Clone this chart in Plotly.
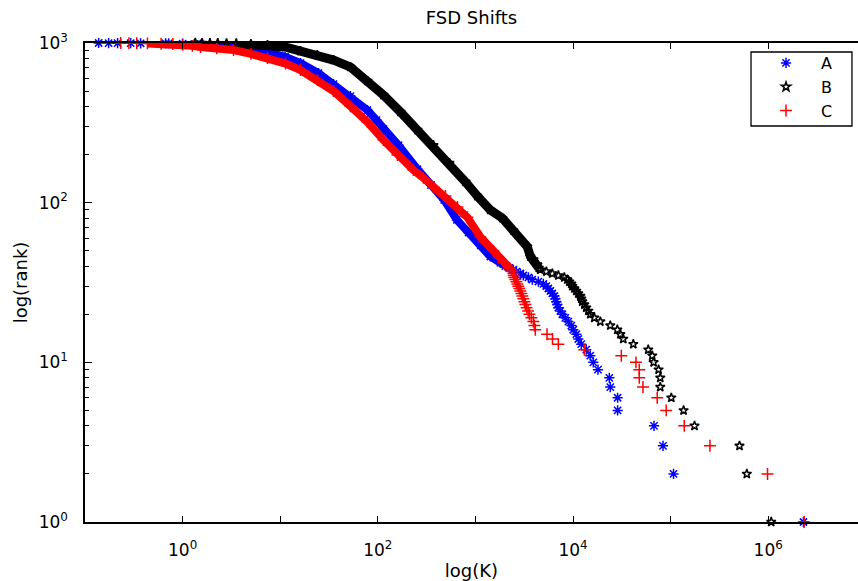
import numpy as np
import plotly.graph_objects as go

# ---------------- data ----------------
# Series A (blue asterisks): rank vs log10(K)
rank_A = [1000, 999, 998, 997, 996, 995, 994, 992, 985, 977, 960, 943, 910, 877,
          820, 748, 648, 553, 465, 380, 329, 289, 229, 162, 129, 104, 78, 65, 54,
          46, 42, 40, 39,
          38, 37, 36, 35, 34, 33, 32, 31, 30, 29, 28, 27, 26, 25, 24, 23, 22, 21,
          20, 19, 18, 17, 16, 15, 14, 13, 12, 11, 10, 9, 8, 7, 6, 5, 4, 3, 2, 1]
log10K_A = [-0.86, -0.758, -0.666, -0.532, -0.43, -0.174, -0.143, 0.0, 0.12, 0.184,
            0.35, 0.522, 0.70, 0.87, 1.05, 1.208, 1.392, 1.546, 1.72, 1.894, 1.986,
            2.058, 2.212, 2.406, 2.545, 2.68, 2.81, 2.93, 3.055, 3.153, 3.256,
            3.307, 3.348,
            3.389, 3.420, 3.461, 3.491, 3.543, 3.583, 3.645, 3.696, 3.727, 3.747,
            3.768, 3.788, 3.809, 3.819, 3.829, 3.839, 3.850, 3.870, 3.891, 3.921,
            3.952, 3.983, 4.003, 4.034, 4.054, 4.085, 4.136, 4.177, 4.208, 4.256,
            4.372, 4.382, 4.457, 4.457, 4.830, 4.922, 5.030, 6.361]

# Series B (black stars)
rank_B = [1000, 999, 998, 997, 996, 993, 985, 970, 945, 890, 840, 782, 707, 578,
          472, 370, 285, 229, 177, 135, 110, 90, 80, 67, 53, 46, 44, 41, 39,
          38, 37, 36, 35, 34, 33, 32, 31, 30, 29, 28, 27, 26, 25, 24, 23, 22, 21,
          20, 19, 18, 17, 16, 15, 14, 13, 12, 11, 10, 9, 8, 7, 6, 5, 4, 3, 2, 1]
log10K_B = [0.13, 0.20, 0.28, 0.36, 0.45, 0.55, 0.70, 0.870, 1.05, 1.208, 1.38,
            1.546, 1.720, 1.894, 2.058, 2.232, 2.406, 2.570, 2.734, 2.898, 3.02,
            3.153, 3.276, 3.389, 3.532, 3.563, 3.594, 3.635, 3.650,
            3.665, 3.727, 3.788, 3.850, 3.911, 3.942, 3.962, 3.983, 3.993, 4.014,
            4.034, 4.054, 4.075, 4.085, 4.095, 4.116, 4.136, 4.157, 4.177, 4.218,
            4.280, 4.382, 4.454, 4.485, 4.515, 4.618, 4.771, 4.812, 4.826, 4.877,
            4.894, 4.894, 5.007, 5.133, 5.245, 5.706, 5.781, 6.031]

# Series C (red plus signs)
rank_C = [1000, 998, 996, 994, 990, 985, 975, 960, 943, 925, 903, 855, 804, 743,
          677, 586, 500, 402, 320, 247, 199, 160, 143, 125, 110, 94, 81, 61, 50,
          42, 39,
          38, 37, 36, 35, 34, 33, 32, 31, 30, 29, 28, 27, 26, 25, 24, 23, 22, 21,
          20, 19, 18, 17, 16, 15, 14, 13, 12, 11, 10, 9, 8, 7, 6, 5, 4, 3, 2, 1]
log10K_C = [-0.635, -0.55, -0.47, -0.36, -0.22, -0.10, 0.0, 0.10, 0.184, 0.35,
            0.522, 0.70, 0.870, 1.055, 1.208, 1.382, 1.546, 1.720, 1.894, 2.058,
            2.201, 2.365, 2.467, 2.570, 2.693, 2.816, 2.918, 3.051, 3.184, 3.287,
            3.350,
            3.370, 3.380, 3.389, 3.394, 3.399, 3.410, 3.420, 3.430, 3.440, 3.450,
            3.461, 3.471, 3.481, 3.491, 3.502, 3.512, 3.525, 3.540, 3.553, 3.573,
            3.594, 3.604, 3.614, 3.734, 3.790, 3.850, 4.116, 4.495, 4.645, 4.679,
            4.679, 4.717, 4.863, 4.955, 5.140, 5.403, 5.993, 6.368]

series_names = ["A", "B", "C"]

x_tickvals = [1e0, 1e2, 1e4, 1e6]
x_ticktext = ["10<sup>0</sup>", "10<sup>2</sup>", "10<sup>4</sup>", "10<sup>6</sup>"]
x_minor_vals = [1e-1, 1e1, 1e3, 1e5, 1e7]
y_tickvals = [1, 10, 100, 1000]
y_ticktext = ["10<sup>0</sup>", "10<sup>1</sup>", "10<sup>2</sup>", "10<sup>3</sup>"]
y_minor_vals = [m * 10 ** e for e in range(0, 3) for m in range(2, 10)]

# ---------------- figure ----------------
styles = {
    "A": dict(color="#0000ff", symbol="asterisk-open", size=8.5, band=8),
    "B": dict(color="#000000", symbol="star-open", size=7, band=9),
    "C": dict(color="#ff0000", symbol="cross-thin-open", size=8.5, band=8),
}
data = {"A": (rank_A, log10K_A), "B": (rank_B, log10K_B), "C": (rank_C, log10K_C)}

FONT = "DejaVu Sans, Arial, sans-serif"
fig = go.Figure()
for name in series_names:
    r, lk = data[name]
    assert len(r) == len(lk)
    r = np.array(r, dtype=float)
    K = 10 ** np.array(lk, dtype=float)
    st = styles[name]
    band = (r >= 39) & (r <= 995)
    fig.add_trace(go.Scatter(
        x=K[band], y=r[band], mode="lines", showlegend=False, hoverinfo="skip",
        legendgroup=name, line=dict(color=st["color"], width=st["band"])))
    fig.add_trace(go.Scatter(
        x=K, y=r, mode="markers", name=name, legendgroup=name, cliponaxis=False,
        marker=dict(symbol=st["symbol"], size=st["size"], color=st["color"],
                    line=dict(color=st["color"], width=1.5))))

# legend frame (drawn as a box so its size matches the reference)
fig.add_shape(type="rect", xref="paper", yref="paper",
              x0=0.8616, x1=0.9922, y0=0.8267, y1=0.9812,
              line=dict(color="black", width=1.3), fillcolor="white",
              layer="above")

fig.update_layout(
    width=858, height=581,
    margin=dict(l=85, r=0, t=43, b=59, autoexpand=False),
    paper_bgcolor="white", plot_bgcolor="white",
    font=dict(family=FONT, size=17, color="black"),
    title=dict(text="FSD Shifts", x=0.5, xref="paper", xanchor="center",
               y=1 - 18 / 581, yref="container", yanchor="middle",
               font=dict(size=18), automargin=False),
    legend=dict(x=0.8616, y=0.9937, xanchor="left", yanchor="top",
                borderwidth=0, bgcolor="rgba(0,0,0,0)",
                itemwidth=60, tracegroupgap=0, font=dict(size=16)),
    showlegend=True,
)
fig.update_xaxes(
    type="log", range=[-1, 6.92], showgrid=False, zeroline=False,
    automargin=False,
    showline=True, linecolor="black", linewidth=1.5, mirror="ticks",
    ticks="inside", ticklen=6, tickwidth=1.2, tickcolor="black",
    tickmode="array", tickvals=x_tickvals, ticktext=x_ticktext,
    ticklabelstandoff=12,
    minor=dict(ticks="inside", ticklen=6, tickwidth=1.2, tickcolor="black",
               tickmode="array", tickvals=x_minor_vals),
    title=dict(text="log(K)", standoff=10, font=dict(size=18)),
)
fig.update_yaxes(
    type="log", range=[0, 3], showgrid=False, zeroline=False,
    automargin=False,
    showline=True, linecolor="black", linewidth=1.5, mirror=False,
    ticks="inside", ticklen=7, tickwidth=1.2, tickcolor="black",
    tickmode="array", tickvals=y_tickvals, ticktext=y_ticktext,
    ticklabelstandoff=12,
    minor=dict(ticks="inside", ticklen=4, tickwidth=1, tickcolor="black",
               tickmode="array", tickvals=y_minor_vals),
    title=dict(text="log(rank)", standoff=6, font=dict(size=18)),
)

fig.write_html("out.html",
               config={"displayModeBar": False},
               post_script="document.body.style.margin='0';"
                           "document.body.style.overflow='hidden';")
